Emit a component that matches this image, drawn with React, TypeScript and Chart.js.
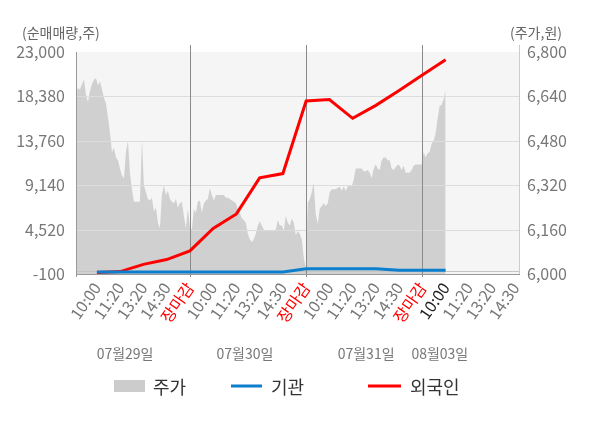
import { useEffect, useRef } from "react"
import { Chart, registerables } from "chart.js"

Chart.register(...registerables)

const FONT = "'Noto Sans CJK KR', 'Noto Sans', sans-serif"

// x tick labels, one per slot 1..19
const xLabels = [
  "10:00", "11:20", "13:20", "14:30", "장마감",
  "10:00", "11:20", "13:20", "14:30", "장마감",
  "10:00", "11:20", "13:20", "14:30", "장마감",
  "10:00", "11:20", "13:20", "14:30",
]
const dayLabels = ["07월29일", "07월30일", "07월31일", "08월03일"]

const leftTicks = [-100, 4520, 9140, 13760, 18380, 23000]
const rightTicks = [6000, 6160, 6320, 6480, 6640, 6800]

// net buying (shares), at slots 1..16
const foreignNet = [50, 150, 900, 1400, 2300, 4650, 6150, 9900, 10350, 17900, 18050, 16100, 17450, 19000, 20600, 22200]
const institutionNet = [100, 100, 100, 100, 100, 100, 100, 100, 120, 450, 450, 450, 450, 300, 300, 300]

// intraday price (won), evenly sampled from slot 0.1 to slot 16
const price = [
  6650, 6670, 6665, 6685, 6700, 6645, 6620, 6660, 6685, 6700, 6705, 6680, 6695, 6665, 6635, 6615,
  6565, 6510, 6440, 6455, 6420, 6410, 6380, 6355, 6345, 6440, 6480, 6365, 6305, 6260, 6260, 6260,
  6260, 6485, 6320, 6295, 6270, 6265, 6275, 6225, 6240, 6185, 6165, 6285, 6320, 6285, 6300, 6270,
  6260, 6255, 6270, 6240, 6255, 6260, 6210, 6165, 6235, 6170, 6160, 6235, 6220, 6260, 6265, 6220,
  6255, 6265, 6270, 6310, 6285, 6265, 6285, 6285, 6285, 6285, 6285, 6275, 6275, 6270, 6265, 6260,
  6255, 6235, 6220, 6200, 6195, 6185, 6145, 6125, 6115, 6125, 6145, 6175, 6190, 6175, 6160,
  6155, 6155, 6155, 6155, 6155, 6160, 6195, 6175, 6175, 6155, 6210, 6185, 6175, 6200, 6185, 6140,
  6155, 6145, 6125, 6060, 6020, 6255, 6270, 6295, 6330, 6215, 6180, 6235, 6245, 6255, 6245, 6255,
  6295, 6305, 6305, 6305, 6310, 6315, 6300, 6315, 6300, 6315, 6320, 6315, 6340, 6380,
  6380, 6380, 6380, 6370, 6370, 6375, 6365, 6345, 6380, 6395, 6380, 6375, 6410, 6420, 6420, 6410,
  6410, 6380, 6375, 6385, 6395, 6390, 6375, 6390, 6365, 6365, 6365, 6375, 6390, 6395, 6395, 6395,
  6395, 6440, 6420, 6435, 6440, 6470, 6480, 6505, 6560, 6605, 6610, 6630, 6665,
]

export default function App() {
  const canvasRef = useRef<HTMLCanvasElement>(null)

  useEffect(() => {
    document.body.style.margin = "0"
    const ctx = canvasRef.current?.getContext("2d")
    if (!ctx) return

    const step = (16 - 0.1) / (price.length - 1)
    const pricePoints = price.map((v, i) => ({ x: 0.1 + i * step, y: v }))
    const bySlot = (arr: number[]) => arr.map((v, i) => ({ x: i + 1, y: v }))

    const line = (c: CanvasRenderingContext2D, x1: number, y1: number, x2: number, y2: number) => {
      c.beginPath()
      c.moveTo(x1, y1)
      c.lineTo(x2, y2)
      c.stroke()
    }

    const decor = {
      id: "decor",
      beforeDraw(chart: any) {
        const { ctx: c, chartArea: a } = chart
        c.save()
        c.fillStyle = "#f5f5f5"
        c.fillRect(a.left, a.top, a.right - a.left, a.bottom - a.top)
        c.restore()
      },
      afterDatasetDraw(chart: any, args: any) {
        if (args.index !== 2) return
        const { ctx: c, chartArea: a, scales } = chart
        c.save()
        c.lineWidth = 1
        c.strokeStyle = "#dcdcdc"
        leftTicks.slice(1, -1).forEach((t) => {
          const y = Math.round(scales.y.getPixelForValue(t)) + 0.5
          line(c, a.left, y, a.right, y)
        })
        c.strokeStyle = "#c4c4c4"
        line(c, a.left, a.bottom - 2.5, a.right, a.bottom - 2.5)
        c.strokeStyle = "#8a8a8a"
        xLabels.forEach((l, i) => {
          if (l !== "장마감") return
          const x = Math.round(scales.x.getPixelForValue(i + 1)) + 0.5
          line(c, x, a.top - 7, x, a.bottom + 3)
        })
        c.restore()
      },
      afterDraw(chart: any) {
        const { ctx: c, chartArea: a, scales } = chart
        c.save()
        c.lineWidth = 1
        c.strokeStyle = "#999"
        line(c, a.left + 0.5, a.top, a.left + 0.5, a.bottom + 3)
        line(c, a.left, a.bottom + 0.5, a.right, a.bottom + 0.5)
        c.strokeStyle = "#cccccc"
        line(c, a.right - 0.5, a.top - 7, a.right - 0.5, a.bottom)

        c.fillStyle = "#666"
        c.textBaseline = "middle"
        c.font = `14px ${FONT}`
        c.textAlign = "left"
        c.fillText("(순매매량,주)", 22, 33)
        c.textAlign = "right"
        c.fillText("(주가,원)", 562, 33)

        c.fillStyle = "#777"
        c.font = `14px ${FONT}`
        c.textAlign = "center"
        const dayPos = [2.21, 7.37, 12.58, 15.75]
        dayLabels.forEach((d, i) => {
          c.fillText(d, scales.x.getPixelForValue(dayPos[i]), 354)
        })

        // legend
        c.fillStyle = "#cccccc"
        c.fillRect(114, 380, 31, 12)
        c.lineWidth = 3
        c.strokeStyle = "#0b7fce"
        line(c, 231, 386, 262, 386)
        c.strokeStyle = "#ff0000"
        line(c, 368, 386, 401, 386)
        c.fillStyle = "#333"
        c.font = `18px ${FONT}`
        c.textAlign = "left"
        c.fillText("주가", 153, 387)
        c.fillText("기관", 271, 387)
        c.fillText("외국인", 410, 387)
        c.restore()
      },
    }

    const chart = new Chart(ctx, {
      type: "line",
      data: {
        datasets: [
          {
            label: "기관",
            data: bySlot(institutionNet),
            borderColor: "#0b7fce",
            borderWidth: 3,
            pointRadius: 0,
            tension: 0,
            yAxisID: "y",
          },
          {
            label: "외국인",
            data: bySlot(foreignNet),
            borderColor: "#ff0000",
            borderWidth: 3,
            pointRadius: 0,
            tension: 0,
            yAxisID: "y",
          },
          {
            label: "주가",
            data: pricePoints,
            borderWidth: 0,
            backgroundColor: "#d0d0d0",
            fill: "start",
            pointRadius: 0,
            tension: 0,
            yAxisID: "y1",
          },
        ],
      },
      options: {
        animation: false,
        responsive: false,
        layout: { padding: { top: 52, left: 0, right: 0, bottom: 0 } },
        plugins: {
          legend: { display: false },
          tooltip: { enabled: false },
        },
        scales: {
          x: {
            type: "linear",
            min: 0.1,
            max: 19.2,
            afterBuildTicks: (s: any) => {
              s.ticks = xLabels.map((_, i) => ({ value: i + 1 }))
            },
            afterFit: (s: any) => {
              s.height = 154
            },
            grid: { display: false, drawTicks: false },
            border: { display: false },
            ticks: {
              autoSkip: false,
              minRotation: 55,
              maxRotation: 55,
              padding: 5,
              font: { family: FONT, size: 16 },
              color: (c: any) => {
                const l = xLabels[c.tick.value - 1]
                if (l === "장마감") return "#ff0000"
                if (c.index === 15) return "#222"
                return "#777"
              },
              callback: (v: any) => xLabels[Number(v) - 1] ?? "",
            },
          },
          y: {
            position: "left",
            min: -100,
            max: 23000,
            afterBuildTicks: (s: any) => {
              s.ticks = leftTicks.map((v) => ({ value: v }))
            },
            afterFit: (s: any) => {
              s.width = 76
            },
            grid: { display: false, drawTicks: false },
            border: { display: false },
            ticks: {
              padding: 11,
              font: { family: FONT, size: 16 },
              color: "#777",
              callback: (v: any) => Number(v).toLocaleString("en-US"),
            },
          },
          y1: {
            position: "right",
            min: 6000,
            max: 6800,
            afterBuildTicks: (s: any) => {
              s.ticks = rightTicks.map((v) => ({ value: v }))
            },
            afterFit: (s: any) => {
              s.width = 80
            },
            grid: { display: false, drawTicks: false },
            border: { display: false },
            ticks: {
              padding: 7,
              font: { family: FONT, size: 16 },
              color: "#777",
              callback: (v: any) => Number(v).toLocaleString("en-US"),
            },
          },
        },
      },
      plugins: [decor],
    })

    return () => {
      chart.destroy()
    }
  }, [])

  return (
    <div style={{ width: 600, height: 428 }}>
      <canvas ref={canvasRef} width={600} height={428}></canvas>
    </div>
  )
}
